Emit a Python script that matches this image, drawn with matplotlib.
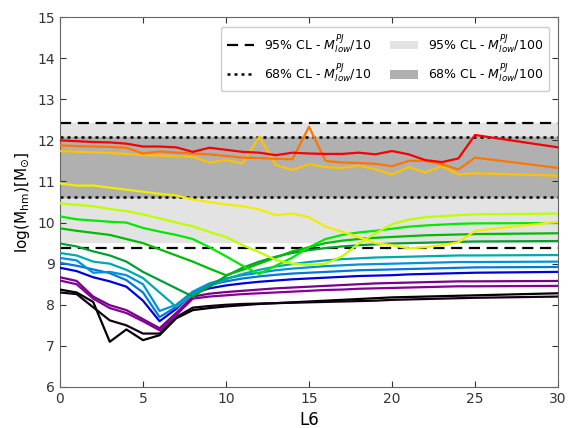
import matplotlib
matplotlib.use("Agg")
import matplotlib.pyplot as plt
from matplotlib.lines import Line2D
from matplotlib.patches import Patch

x = list(range(26)) + [30]

black_a = [8.37, 8.30, 8.07, 7.10, 7.40, 7.14, 7.26, 7.67, 7.87, 7.92, 7.96, 7.99, 8.02, 8.04, 8.06, 8.08, 8.10, 8.12, 8.14, 8.16, 8.18, 8.19, 8.20, 8.21, 8.22, 8.23, 8.28]
black_b = [8.30, 8.26, 7.94, 7.62, 7.50, 7.30, 7.30, 7.70, 7.93, 7.97, 8.00, 8.02, 8.03, 8.04, 8.05, 8.06, 8.07, 8.08, 8.09, 8.10, 8.12, 8.13, 8.14, 8.15, 8.16, 8.17, 8.20]
purple_a = [8.67, 8.58, 8.20, 7.99, 7.87, 7.65, 7.43, 7.80, 8.20, 8.27, 8.31, 8.34, 8.37, 8.40, 8.42, 8.44, 8.46, 8.48, 8.50, 8.52, 8.53, 8.54, 8.55, 8.56, 8.57, 8.57, 8.58]
purple_b = [8.59, 8.50, 8.15, 7.92, 7.80, 7.60, 7.38, 7.75, 8.15, 8.20, 8.23, 8.26, 8.28, 8.30, 8.32, 8.34, 8.36, 8.37, 8.39, 8.40, 8.41, 8.42, 8.43, 8.44, 8.45, 8.45, 8.46]
blue_d = [8.90, 8.82, 8.67, 8.57, 8.44, 8.10, 7.60, 7.90, 8.28, 8.40, 8.47, 8.52, 8.56, 8.59, 8.62, 8.64, 8.66, 8.68, 8.70, 8.71, 8.72, 8.74, 8.75, 8.76, 8.77, 8.78, 8.80]
blue_m = [9.02, 8.95, 8.86, 8.77, 8.60, 8.30, 7.70, 7.95, 8.30, 8.48, 8.57, 8.64, 8.69, 8.73, 8.76, 8.78, 8.80, 8.82, 8.84, 8.85, 8.86, 8.87, 8.88, 8.89, 8.90, 8.91, 8.92]
blue_l = [9.14, 9.08, 8.78, 8.80, 8.72, 8.50, 7.85, 8.00, 8.32, 8.52, 8.64, 8.72, 8.78, 8.84, 8.88, 8.91, 8.94, 8.96, 8.98, 8.99, 9.00, 9.01, 9.02, 9.03, 9.04, 9.04, 9.05]
teal = [9.26, 9.20, 9.05, 9.00, 8.85, 8.65, 8.30, 7.95, 8.25, 8.45, 8.62, 8.75, 8.85, 8.93, 8.99, 9.04, 9.08, 9.11, 9.13, 9.15, 9.16, 9.17, 9.18, 9.19, 9.20, 9.20, 9.21]
dgreen = [9.49, 9.42, 9.30, 9.20, 9.05, 8.80, 8.60, 8.40, 8.20, 8.45, 8.70, 8.90, 9.05, 9.17, 9.26, 9.33, 9.38, 9.42, 9.45, 9.47, 9.49, 9.50, 9.51, 9.52, 9.53, 9.54, 9.55]
green = [9.86, 9.80, 9.75, 9.70, 9.60, 9.50, 9.35, 9.20, 9.05, 8.88, 8.72, 8.85, 9.00, 9.15, 9.30, 9.40, 9.50, 9.56, 9.60, 9.63, 9.65, 9.67, 9.69, 9.70, 9.71, 9.72, 9.74]
bgreen = [10.15, 10.08, 10.05, 10.02, 10.00, 9.87, 9.78, 9.70, 9.60, 9.40, 9.18, 8.95, 8.75, 8.95, 9.15, 9.40, 9.60, 9.70, 9.76, 9.80, 9.85, 9.90, 9.93, 9.95, 9.97, 9.98, 9.99]
lime = [10.47, 10.43, 10.40, 10.33, 10.28, 10.20, 10.10, 10.00, 9.91, 9.77, 9.65, 9.45, 9.28, 9.09, 9.00, 8.97, 9.00, 9.18, 9.49, 9.74, 9.96, 10.07, 10.13, 10.16, 10.18, 10.20, 10.22]
yellow = [10.95, 10.90, 10.90, 10.85, 10.80, 10.75, 10.70, 10.66, 10.56, 10.50, 10.44, 10.40, 10.32, 10.18, 10.22, 10.13, 9.90, 9.78, 9.64, 9.50, 9.45, 9.37, 9.40, 9.45, 9.52, 9.80, 10.02]
oyellow = [11.74, 11.72, 11.71, 11.69, 11.67, 11.64, 11.63, 11.61, 11.60, 11.46, 11.52, 11.44, 12.09, 11.40, 11.28, 11.42, 11.35, 11.33, 11.38, 11.30, 11.17, 11.35, 11.22, 11.37, 11.17, 11.20, 11.14]
orange = [11.88, 11.86, 11.85, 11.84, 11.82, 11.68, 11.73, 11.70, 11.68, 11.66, 11.62, 11.58, 11.57, 11.55, 11.54, 12.33, 11.50, 11.46, 11.45, 11.43, 11.37, 11.50, 11.50, 11.42, 11.29, 11.58, 11.33]
red = [12.00, 11.98, 11.96, 11.95, 11.92, 11.85, 11.85, 11.83, 11.72, 11.82, 11.77, 11.72, 11.70, 11.64, 11.70, 11.68, 11.67, 11.67, 11.70, 11.66, 11.74, 11.66, 11.52, 11.47, 11.56, 12.13, 11.83]

series = [black_a, black_b, purple_a, purple_b, blue_d, blue_m, blue_l, teal,
          dgreen, green, bgreen, lime, yellow, oyellow, orange, red]
cmap_pos = [0.0, 0.01, 0.06, 0.09, 0.20, 0.25, 0.29, 0.35,
            0.43, 0.50, 0.57, 0.65, 0.70, 0.76, 0.81, 0.86]

cl95_10 = [9.38, 12.42]
cl68_10 = [10.62, 12.08]
cl95_100 = [9.53, 12.42]
cl68_100 = [10.62, 12.08]

fig = plt.figure(figsize=(5.68, 4.28), dpi=100)
ax = fig.add_axes([0.1056, 0.0958, 0.8768, 0.8644])

ax.axhspan(cl95_100[0], cl95_100[1], color='#e3e3e3', zorder=0)
ax.axhspan(cl68_100[0], cl68_100[1], color='#b0b0b0', zorder=1)
for v in cl95_10:
    ax.axhline(v, color='black', ls=(0, (5, 3)), lw=1.6, zorder=2)
for v in cl68_10:
    ax.axhline(v, color='black', ls=(0, (1.2, 1.6)), lw=1.8, zorder=2)

cmap = plt.get_cmap('nipy_spectral')
for s, c in zip(series, cmap_pos):
    ax.plot(x, s, color=cmap(c), lw=1.6, zorder=3)

ax.set_xlim(0, 30)
ax.set_ylim(6, 15)
ax.set_xticks([0, 5, 10, 15, 20, 25, 30])
ax.set_yticks(range(6, 16))
ax.tick_params(direction='in', top=True, right=True, labelsize=10, colors='0.2', length=4)
for sp in ax.spines.values():
    sp.set_color('0.4')
ax.set_xlabel('L6', fontsize=12)
ax.set_ylabel(r'log(M$_{\rm hm}$)[M$_{\odot}$]', fontsize=11)

handles = [Line2D([], [], color='black', ls=(0, (5, 3)), lw=1.6),
           Line2D([], [], color='black', ls=(0, (1.2, 1.6)), lw=1.8),
           Patch(facecolor='#e3e3e3'),
           Patch(facecolor='#b0b0b0')]
labels = [r'95% CL - $M^{PJ}_{low}$/10', r'68% CL - $M^{PJ}_{low}$/10',
          r'95% CL - $M^{PJ}_{low}$/100', r'68% CL - $M^{PJ}_{low}$/100']
ax.legend(handles, labels, ncol=2, loc='upper right', fontsize=9,
          handlelength=2.2, columnspacing=1.5, borderpad=0.5, labelspacing=0.55,
          framealpha=1, bbox_to_anchor=(0.995, 0.99))

fig.savefig('out.png', dpi=100)
